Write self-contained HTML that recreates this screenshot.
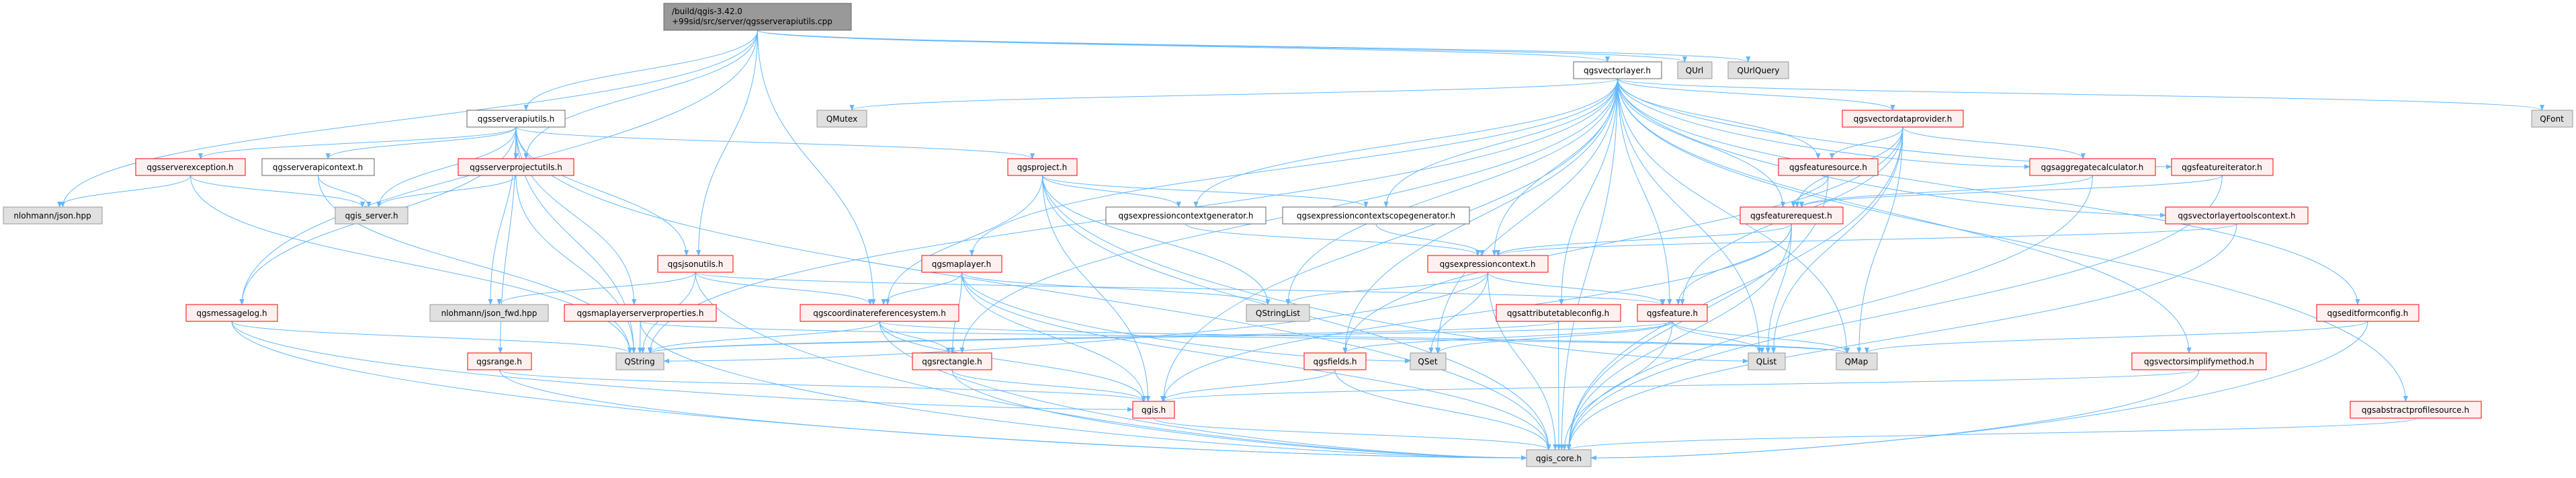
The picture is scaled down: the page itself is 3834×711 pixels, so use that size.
<!DOCTYPE html>
<html><head><meta charset="utf-8">
<style>
html,body{margin:0;padding:0;background:#fff;}
body{width:3834px;height:711px;position:relative;overflow:hidden;font-family:"DejaVu Sans","Liberation Sans",sans-serif;}
svg{position:absolute;left:0;top:0;}
</style></head><body>
<svg id="g" width="3834" height="711" viewBox="0 0 3834 711" xmlns="http://www.w3.org/2000/svg">
<defs><marker id="a" viewBox="0 0 10 10" refX="9" refY="5" markerWidth="9" markerHeight="9" orient="auto" markerUnits="userSpaceOnUse"><path d="M0,1 L10,5 L0,9 z" fill="#63b8ff"/></marker></defs>
<g id="edges" fill="none" stroke="#63b8ff" stroke-width="1"></g>
<g id="nodes" font-size="12" text-anchor="middle">
<rect x="988" y="5" width="279" height="40" fill="#999" stroke="#666"/><text x="1000" y="21" text-anchor="start">/build/qgis-3.42.0</text><text x="1000" y="36" text-anchor="start">+99sid/src/server/qgsserverapiutils.cpp</text>
</g>
</svg>
<script>
var R=[5,92,164,236,308,380,453,525,597,669];
var N={
json:[5,152,4,'g','nlohmann/json.hpp'],
sexc:[202,365,3,'r','qgsserverexception.h'],
sctx:[390,557,3,'w','qgsserverapicontext.h'],
qsrv:[499,607,4,'g','qgis_server.h'],
mlog:[277,413,6,'r','qgsmessagelog.h'],
sapi:[695,841,2,'w','qgsserverapiutils.h'],
sprj:[682,854,3,'r','qgsserverprojectutils.h'],
jfwd:[640,816,6,'g','nlohmann/json_fwd.hpp'],
jsu:[979,1091,5,'r','qgsjsonutils.h'],
mlsp:[840,1066,6,'r','qgsmaplayerserverproperties.h'],
qstr:[917,988,7,'g','QString'],
rng:[696,791,7,'r','qgsrange.h'],
mtx:[1216,1290,2,'g','QMutex'],
crs:[1191,1427,6,'r','qgscoordinatereferencesystem.h'],
prj:[1500,1603,3,'r','qgsproject.h'],
ecg:[1646,1884,4,'w','qgsexpressioncontextgenerator.h'],
ml:[1372,1491,5,'r','qgsmaplayer.h'],
rect:[1358,1476,7,'r','qgsrectangle.h'],
qgis:[1686,1748,8,'r','qgis.h'],
qsl:[1855,1949,6,'g','QStringList'],
vl:[2342,2473,1,'w','qgsvectorlayer.h'],
esg:[1909,2187,4,'w','qgsexpressioncontextscopegenerator.h'],
ec:[2125,2304,5,'r','qgsexpressioncontext.h'],
atc:[2227,2412,6,'r','qgsattributetableconfig.h'],
feat:[2437,2541,6,'r','qgsfeature.h'],
flds:[1941,2033,7,'r','qgsfields.h'],
qset:[2099,2152,7,'g','QSet'],
core:[2272,2368,9,'g','qgis_core.h'],
url:[2497,2548,1,'g','QUrl'],
urlq:[2572,2662,1,'g','QUrlQuery'],
vdp:[2742,2922,2,'r','qgsvectordataprovider.h'],
fs:[2647,2795,3,'r','qgsfeaturesource.h'],
agg:[3021,3208,3,'r','qgsaggregatecalculator.h'],
fr:[2590,2743,4,'r','qgsfeaturerequest.h'],
qlst:[2602,2657,7,'g','QList'],
qmap:[2733,2794,7,'g','QMap'],
font:[3768,3829,2,'g','QFont'],
fit:[3232,3383,3,'r','qgsfeatureiterator.h'],
vltc:[3223,3435,4,'r','qgsvectorlayertoolscontext.h'],
efc:[3448,3600,6,'r','qgseditformconfig.h'],
vsm:[3173,3373,7,'r','qgsvectorsimplifymethod.h'],
aps:[3498,3693,8,'r','qgsabstractprofilesource.h']
};
N.root=[988,1267,0,'x',''];
var E={
root:'json sapi sprj mlog crs vl url urlq jsu',
sapi:'sexc sctx qsrv sprj prj jsu mlsp jfwd qstr rng core mlog',
sexc:'json qsrv qstr',
sctx:'qsrv qstr',
sprj:'qsrv qstr',
prj:'crs ecg esg qgis qsl core qlst',
jsu:'jfwd crs feat core qstr',
mlsp:'qstr core qmap',
mlog:'qstr core qgis',
crs:'qstr rect qgis core qmap',
ml:'crs rect qgis core qsl qset',
rect:'qgis core',
rng:'qgis core',
qgis:'core',
vl:'mtx ml ecg esg ec flds qsl atc feat qlst qset qmap vdp fs fr agg fit vltc efc vsm aps font core qgis rect qstr',
ecg:'ec',esg:'ec',
ec:'qsl qset feat core qstr',
atc:'core qstr',
feat:'qlst qmap core qstr qset flds',
flds:'qgis core',
vdp:'fs fr agg feat qlst qmap core flds',
fs:'fr core',
agg:'fr core',
fr:'feat qlst core ec qgis',
fit:'fr core',
vltc:'ec core',
efc:'qmap core',
vsm:'qgis core',
aps:'core'
};
var ns='http://www.w3.org/2000/svg';
var eg=document.getElementById('edges'),ng=document.getElementById('nodes');
function H(n){return n[2]==0?40:25;}
for(var s in E){E[s].split(' ').forEach(function(t){
 var a=N[s],b=N[t];if(!a||!b)return;
 var sx=(a[0]+a[1])/2,sy=R[a[2]]+H(a),tx=(b[0]+b[1])/2,ty=R[b[2]];
 var d;
 if(b[2]<=a[2]){ // same or upward: side
   sy=R[a[2]]+H(a)/2; var right=tx>sx; sx=right?a[1]:a[0]; tx=right?b[0]:b[1]; ty=R[b[2]]+12;
   d='M'+sx+','+sy+' C'+((sx+tx)/2)+','+sy+' '+((sx+tx)/2)+','+ty+' '+tx+','+ty;
 } else {
   var dy=ty-sy,dx=Math.abs(tx-sx);
   if(dx>4*dy&&b[2]-a[2]>=2){ // side entry
     var right=tx>sx; tx=right?b[0]:b[1]; ty=R[b[2]]+12;
     d='M'+sx+','+sy+' C'+sx+','+(sy+dy*0.6)+' '+(tx+(right?-dx*0.3:dx*0.3))+','+ty+' '+tx+','+ty;
   } else {
     var off=Math.max(-30,Math.min(30,(tx-sx)*0.1));
     tx+=-off*0.5;
     d='M'+sx+','+sy+' C'+sx+','+(sy+dy*0.5)+' '+tx+','+(ty-dy*0.5)+' '+tx+','+ty;
   }
 }
 var p=document.createElementNS(ns,'path');p.setAttribute('d',d);p.setAttribute('marker-end','url(#a)');eg.appendChild(p);
});}
for(var k in N){if(k=='root')continue;var n=N[k];
 var r=document.createElementNS(ns,'rect');
 r.setAttribute('x',n[0]);r.setAttribute('y',R[n[2]]);r.setAttribute('width',n[1]-n[0]);r.setAttribute('height',25);
 var f={r:'#fff0f0',g:'#e0e0e0',w:'#ffffff'}[n[3]],st={r:'#ff0000',g:'#999999',w:'#666666'}[n[3]];
 r.setAttribute('fill',f);r.setAttribute('stroke',st);ng.appendChild(r);
}
</script>
<svg width="3834" height="711" style="pointer-events:none" font-size="12" text-anchor="middle" fill="#000" font-family="DejaVu Sans, Liberation Sans, sans-serif">
<text x="78" y="325">nlohmann/json.hpp</text>
<text x="283" y="253">qgsserverexception.h</text>
<text x="473" y="253">qgsserverapicontext.h</text>
<text x="553" y="325">qgis_server.h</text>
<text x="345" y="470">qgsmessagelog.h</text>
<text x="768" y="181">qgsserverapiutils.h</text>
<text x="768" y="253">qgsserverprojectutils.h</text>
<text x="728" y="470">nlohmann/json_fwd.hpp</text>
<text x="1035" y="397">qgsjsonutils.h</text>
<text x="953" y="470">qgsmaplayerserverproperties.h</text>
<text x="952" y="542">QString</text>
<text x="743" y="542">qgsrange.h</text>
<text x="1253" y="181">QMutex</text>
<text x="1309" y="470">qgscoordinatereferencesystem.h</text>
<text x="1551" y="253">qgsproject.h</text>
<text x="1765" y="325">qgsexpressioncontextgenerator.h</text>
<text x="1431" y="397">qgsmaplayer.h</text>
<text x="1417" y="542">qgsrectangle.h</text>
<text x="1717" y="614">qgis.h</text>
<text x="1902" y="470">QStringList</text>
<text x="2407" y="109">qgsvectorlayer.h</text>
<text x="2048" y="325">qgsexpressioncontextscopegenerator.h</text>
<text x="2214" y="397">qgsexpressioncontext.h</text>
<text x="2319" y="470">qgsattributetableconfig.h</text>
<text x="2489" y="470">qgsfeature.h</text>
<text x="1987" y="542">qgsfields.h</text>
<text x="2125" y="542">QSet</text>
<text x="2320" y="686">qgis_core.h</text>
<text x="2522" y="109">QUrl</text>
<text x="2617" y="109">QUrlQuery</text>
<text x="2832" y="181">qgsvectordataprovider.h</text>
<text x="2721" y="253">qgsfeaturesource.h</text>
<text x="3114" y="253">qgsaggregatecalculator.h</text>
<text x="2666" y="325">qgsfeaturerequest.h</text>
<text x="2629" y="542">QList</text>
<text x="2763" y="542">QMap</text>
<text x="3798" y="181">QFont</text>
<text x="3307" y="253">qgsfeatureiterator.h</text>
<text x="3329" y="325">qgsvectorlayertoolscontext.h</text>
<text x="3524" y="470">qgseditformconfig.h</text>
<text x="3273" y="542">qgsvectorsimplifymethod.h</text>
<text x="3595" y="614">qgsabstractprofilesource.h</text>
</svg>
</body></html>
